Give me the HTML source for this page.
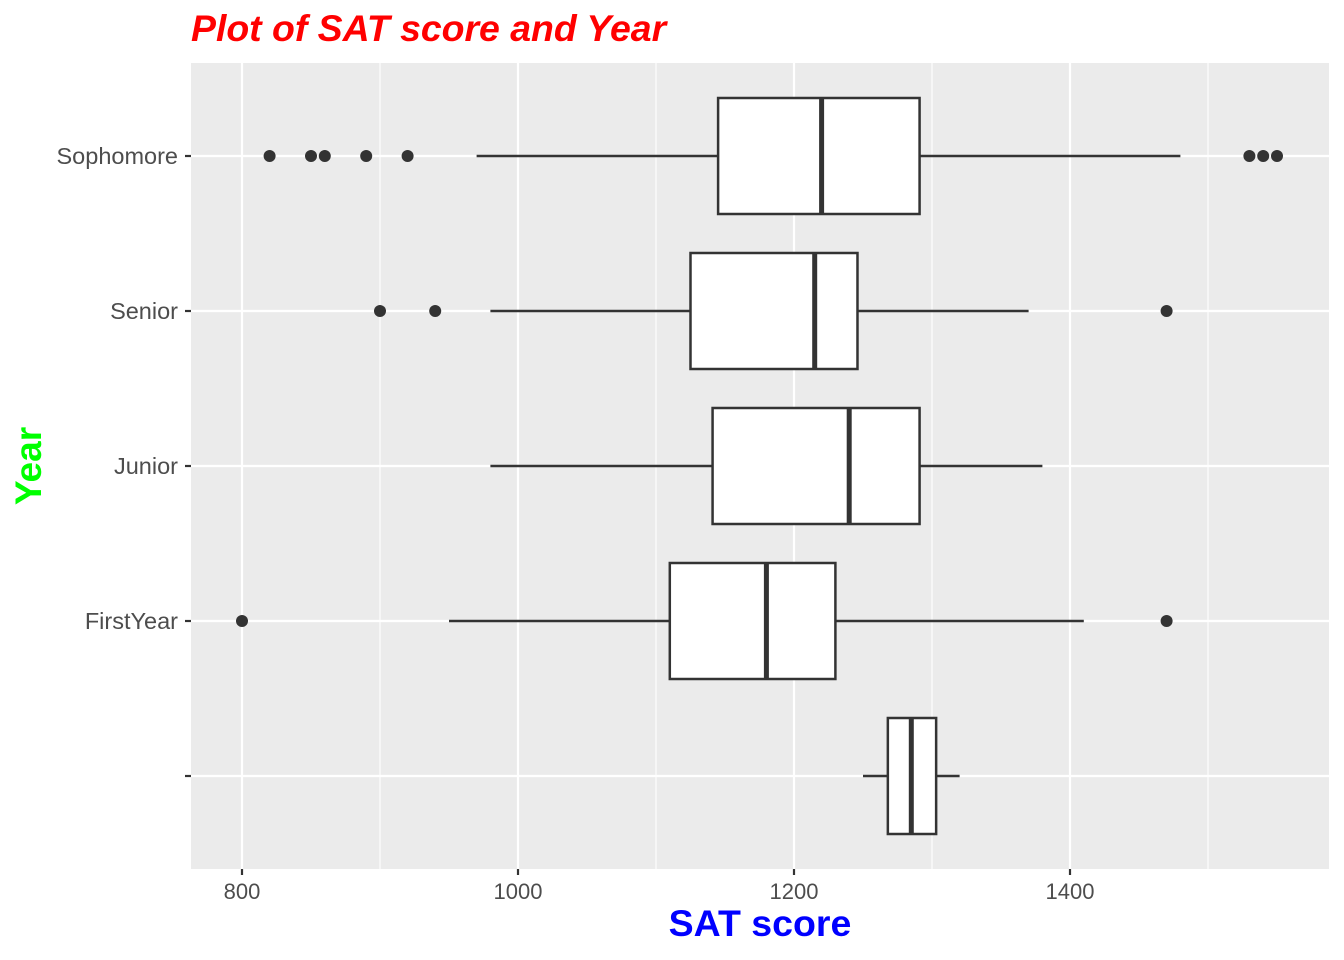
<!DOCTYPE html>
<html><head><meta charset="utf-8"><style>body{margin:0;background:#fff}svg{display:block}</style></head>
<body>
<svg id="chart" width="1344" height="960" xmlns="http://www.w3.org/2000/svg" font-family="Liberation Sans, sans-serif"></svg>
<script>
const categories = ["Sophomore","Senior","Junior","FirstYear",""];
const lowerWhisker = [970, 980, 980, 950, 1250];
const q1 = [1145, 1125, 1141, 1110, 1268];
const medians = [1220, 1215, 1240, 1180, 1285];
const q3 = [1291, 1246, 1291, 1230, 1303];
const upperWhisker = [1480, 1370, 1380, 1410, 1320];
const outliers = [[820,850,860,890,920,1530,1540,1550],[900,940,1470],[],[800,1470],[]];
const majorTicks = [800,1000,1200,1400];
const minorTicks = [900,1100,1300,1500];

const NS="http://www.w3.org/2000/svg";
const svg=document.getElementById('chart');
const L=191,R=1329,T=63,B=869;
const x=v=>242+(v-800)*1.38;
const y=i=>156+i*155;
function mk(tag,attrs,parent){const e=document.createElementNS(NS,tag);for(const k in attrs)e.setAttribute(k,attrs[k]);(parent||svg).appendChild(e);return e;}

const panel=mk('rect',{x:L,y:T,width:R-L,height:B-T,fill:'#ebebeb'});


minorTicks.forEach(v=>{const g=mk('line',{x1:x(v),x2:x(v),y1:T,y2:B,stroke:'#fff','stroke-width':1.1});

});
majorTicks.forEach(v=>{const g=mk('line',{x1:x(v),x2:x(v),y1:T,y2:B,stroke:'#fff','stroke-width':2.2});


const tk=mk('line',{x1:x(v),x2:x(v),y1:B,y2:B+6,stroke:'#333','stroke-width':2.2});


const t=mk('text',{x:x(v),y:899,'text-anchor':'middle','font-size':22,fill:'#4d4d4d'});t.textContent=v;

});
categories.forEach((c,i)=>{const g=mk('line',{x1:L,x2:R,y1:y(i),y2:y(i),stroke:'#fff','stroke-width':2.2});


const tk=mk('line',{x1:L-6,x2:L,y1:y(i),y2:y(i),stroke:'#333','stroke-width':2.2});


const t=mk('text',{x:178,y:y(i)+8,'text-anchor':'end','font-size':23.5,fill:'#4d4d4d'});t.textContent=c;

});
categories.forEach((c,i)=>{
const g=mk('g',{});


const h=58,cy=y(i);
mk('line',{x1:x(lowerWhisker[i]),x2:x(q1[i]),y1:cy,y2:cy,stroke:'#333','stroke-width':2.5},g);
mk('line',{x1:x(q3[i]),x2:x(upperWhisker[i]),y1:cy,y2:cy,stroke:'#333','stroke-width':2.5},g);
mk('rect',{x:x(q1[i]),y:cy-h,width:x(q3[i])-x(q1[i]),height:2*h,fill:'#fff',stroke:'#333','stroke-width':2.5},g);
mk('line',{x1:x(medians[i]),x2:x(medians[i]),y1:cy-h,y2:cy+h,stroke:'#333','stroke-width':5},g);
outliers[i].forEach(v=>{const p=mk('circle',{cx:x(v),cy:cy,r:6,fill:'#333'},g);

});
});
</script>
<div style="position:absolute;left:0;top:0;width:1344px;height:960px;pointer-events:none">
<div style="position:absolute;left:191px;top:7px;font:italic bold 37.4px 'Liberation Sans',sans-serif;color:#ff0000">Plot of SAT score and Year</div>
<div style="position:absolute;left:0;width:1520px;top:902px;text-align:center;font:bold 37.5px 'Liberation Sans',sans-serif;color:#0000ff">SAT score</div>
<div style="position:absolute;left:29px;top:466px;transform:translate(-50%,-50%) rotate(-90deg);font:bold 37px 'Liberation Sans',sans-serif;color:#00ff00;white-space:nowrap">Year</div>
</div>
</body></html>
